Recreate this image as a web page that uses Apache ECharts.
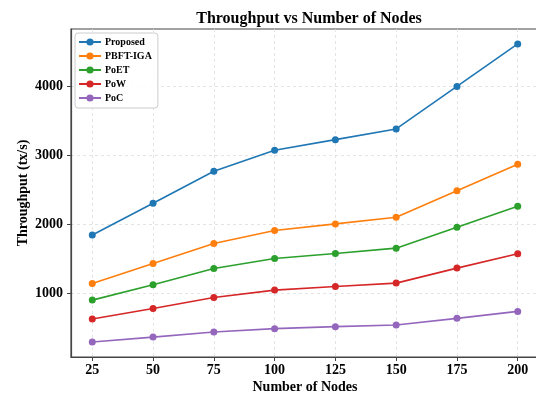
<!DOCTYPE html>
<html>
<head>
<meta charset="utf-8">
<script src="https://cdn.jsdelivr.net/npm/echarts@6/dist/echarts.min.js"></script>
<style>
html, body { margin: 0; padding: 0; background: #fff; }
#main { width: 536px; height: 394px; }
</style>
</head>
<body>
<div id="main"></div>
<script>
// 横轴：节点数
var nodes = [25, 50, 75, 100, 125, 150, 175, 200];
var yTicks = [1000, 2000, 3000, 4000];
var seriesNames = ['Proposed', 'PBFT-IGA', 'PoET', 'PoW', 'PoC'];
var proposed = [1845, 2305, 2768, 3072, 3225, 3380, 3995, 4610];
var pbftIga = [1144, 1434, 1722, 1910, 2006, 2103, 2484, 2869];
var poet = [903, 1125, 1361, 1506, 1578, 1655, 1958, 2262];
var pow = [629, 783, 942, 1048, 1101, 1149, 1366, 1573];
var poc = [296, 368, 441, 490, 519, 542, 639, 740];
var colors = ['#1f77b4', '#ff7f0e', '#2ca02c', '#d62728', '#9467bd'];

var font = 'Liberation Serif';

function pairs(ys) {
	return nodes.map(function(x, i) { return [x, ys[i]]; });
}

function makeSeries(name, ys, color) {
	return {
		name : name,
		type : 'line',
		data : pairs(ys),
		symbol : 'circle',
		symbolSize : 7,
		showSymbol : true,
		lineStyle : { color : color, width : 1.6 },
		itemStyle : { color : color },
		emphasis : { disabled : true }
	};
}

var chart = echarts.init(document.getElementById('main'), null, { renderer : 'canvas' });

var option = {
	animation : false,
	backgroundColor : '#fff',
	color : colors,
	title : {
		text : 'Throughput vs Number of Nodes',
		left : 304,
		textAlign : 'center',
		top : 6,
		textStyle : {
			fontFamily : font,
			fontWeight : 'bold',
			fontSize : 16,
			color : '#000'
		}
	},
	legend : {
		left : 75,
		top : 33,
		orient : 'vertical',
		itemWidth : 22,
		itemHeight : 9,
		itemGap : 4,
		padding : [4, 6, 5, 3],
		borderColor : '#cccccc',
		borderWidth : 1,
		borderRadius : 3,
		backgroundColor : 'rgba(255,255,255,0.85)',
		textStyle : {
			fontFamily : font,
			fontWeight : 'bold',
			fontSize : 10,
			lineHeight : 9,
			padding : [0, 0, 0, -1],
			color : '#000'
		},
		data : seriesNames
	},
	grid : {
		left : 71,
		top : 29,
		width : 468,
		height : 328,
		show : true,
		borderColor : '#444',
		borderWidth : 1.2,
		containLabel : false,
		outerBoundsMode : 'none'
	},
	xAxis : {
		type : 'value',
		min : 16.25,
		max : 208.75,
		minInterval : 25,
		maxInterval : 25,
		name : 'Number of Nodes',
		nameLocation : 'middle',
		nameGap : 23,
		nameMoveOverlap : false,
		nameTextStyle : {
			fontFamily : font,
			fontWeight : 'bold',
			fontSize : 14,
			color : '#000'
		},
		axisLine : { show : true, lineStyle : { color : '#444', width : 1.2 } },
		axisTick : { show : true, length : 4, customValues : nodes, lineStyle : { color : '#444' } },
		axisLabel : {
			margin : 6,
			customValues : nodes,
			fontFamily : font,
			fontWeight : 'bold',
			fontSize : 14,
			color : '#000',
			formatter : function(v) { return String(v); }
		},
		splitLine : { show : true, lineStyle : { color : '#dddddd', type : [3, 3], width : 0.8 } }
	},
	yAxis : {
		type : 'value',
		min : 80,
		max : 4826,
		minInterval : 1000,
		maxInterval : 1000,
		name : 'Throughput (tx/s)',
		nameLocation : 'middle',
		nameGap : 41,
		nameMoveOverlap : false,
		nameTextStyle : {
			fontFamily : font,
			fontWeight : 'bold',
			fontSize : 14,
			color : '#000'
		},
		axisLine : { show : true, lineStyle : { color : '#444', width : 1.2 } },
		axisTick : { show : true, length : 4, customValues : yTicks, lineStyle : { color : '#444' } },
		axisLabel : {
			margin : 8,
			customValues : yTicks,
			fontFamily : font,
			fontWeight : 'bold',
			fontSize : 14,
			color : '#000',
			formatter : function(v) { return String(v); }
		},
		splitLine : { show : true, lineStyle : { color : '#dddddd', type : [3, 3], width : 0.8 } }
	},
	series : [
		makeSeries(seriesNames[0], proposed, colors[0]),
		makeSeries(seriesNames[1], pbftIga, colors[1]),
		makeSeries(seriesNames[2], poet, colors[2]),
		makeSeries(seriesNames[3], pow, colors[3]),
		makeSeries(seriesNames[4], poc, colors[4])
	]
};

chart.setOption(option, true);
</script>
</body>
</html>
